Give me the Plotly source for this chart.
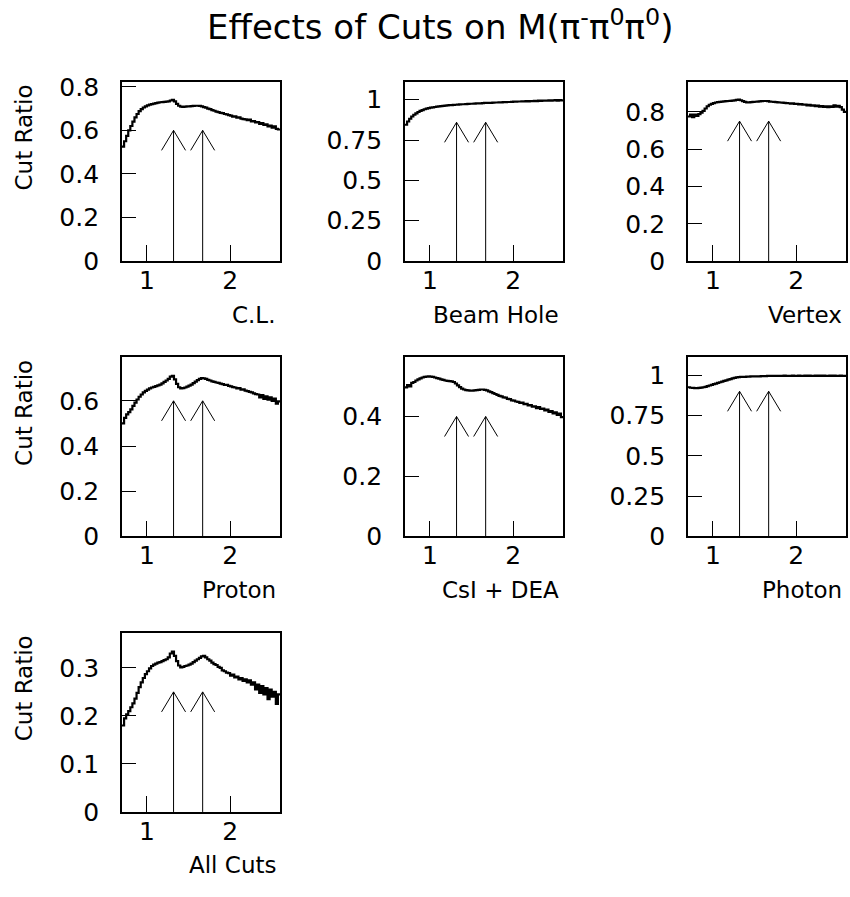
import numpy as np
import plotly.graph_objects as go

# ---------------- data ----------------
MASS_MIN, MASS_MAX = 0.7, 2.6
panel_titles = ["C.L.", "Beam Hole", "Vertex", "Proton", "CsI + DEA", "Photon", "All Cuts"]

cl = [0.525, 0.550, 0.575, 0.600, 0.620, 0.640, 0.660, 0.675, 0.688, 0.697, 0.705, 0.710,
      0.715, 0.718, 0.720, 0.723, 0.725, 0.727, 0.729, 0.730, 0.731, 0.732, 0.733, 0.737,
      0.740, 0.733, 0.722, 0.713, 0.709, 0.708, 0.709, 0.710, 0.710, 0.711, 0.712, 0.713,
      0.713, 0.712, 0.710, 0.707, 0.704, 0.700, 0.697, 0.693, 0.690, 0.686, 0.684, 0.680,
      0.679, 0.675, 0.673, 0.670, 0.668, 0.663, 0.664, 0.658, 0.660, 0.654, 0.652, 0.650,
      0.647, 0.649, 0.641, 0.643, 0.636, 0.638, 0.630, 0.633, 0.625, 0.628, 0.618, 0.622,
      0.612, 0.618, 0.607, 0.604]

beam_hole = [0.845, 0.865, 0.882, 0.896, 0.907, 0.916, 0.924, 0.931, 0.936, 0.941, 0.945, 0.948,
             0.951, 0.953, 0.955, 0.957, 0.959, 0.960, 0.962, 0.963, 0.965, 0.966, 0.967, 0.968,
             0.969, 0.970, 0.971, 0.972, 0.972, 0.973, 0.974, 0.975, 0.975, 0.976, 0.977, 0.978,
             0.978, 0.979, 0.980, 0.980, 0.981, 0.981, 0.982, 0.983, 0.983, 0.984, 0.984, 0.985,
             0.985, 0.986, 0.986, 0.987, 0.988, 0.988, 0.989, 0.989, 0.990, 0.990, 0.991, 0.990,
             0.992, 0.991, 0.993, 0.992, 0.994, 0.993, 0.994, 0.995, 0.994, 0.996, 0.995, 0.996,
             0.997, 0.995, 0.997, 0.996]

vertex = [0.775, 0.785, 0.772, 0.785, 0.778, 0.788, 0.795, 0.805, 0.818, 0.830, 0.838, 0.843,
          0.847, 0.850, 0.852, 0.853, 0.855, 0.856, 0.857, 0.858, 0.859, 0.860, 0.861, 0.864,
          0.866, 0.862, 0.857, 0.853, 0.851, 0.851, 0.852, 0.853, 0.854, 0.855, 0.856, 0.857,
          0.858, 0.858, 0.857, 0.855, 0.854, 0.853, 0.852, 0.851, 0.850, 0.849, 0.848, 0.847,
          0.846, 0.844, 0.845, 0.842, 0.843, 0.840, 0.841, 0.838, 0.839, 0.835, 0.837, 0.833,
          0.835, 0.830, 0.833, 0.828, 0.831, 0.826, 0.829, 0.825, 0.830, 0.827, 0.835, 0.828,
          0.832, 0.825, 0.812, 0.800]

proton = [0.500, 0.525, 0.540, 0.550, 0.562, 0.578, 0.592, 0.606, 0.618, 0.628, 0.637, 0.644,
          0.650, 0.655, 0.659, 0.662, 0.665, 0.668, 0.672, 0.677, 0.684, 0.690, 0.697, 0.707,
          0.710, 0.695, 0.675, 0.660, 0.655, 0.656, 0.659, 0.663, 0.667, 0.672, 0.678, 0.685,
          0.692, 0.697, 0.700, 0.699, 0.697, 0.693, 0.690, 0.686, 0.684, 0.681, 0.679, 0.676,
          0.674, 0.670, 0.671, 0.666, 0.664, 0.661, 0.659, 0.655, 0.656, 0.650, 0.651, 0.645,
          0.643, 0.640, 0.637, 0.633, 0.630, 0.628, 0.615, 0.625, 0.608, 0.620, 0.605, 0.615,
          0.600, 0.610, 0.588, 0.598]

csi_dea = [0.497, 0.505, 0.500, 0.512, 0.515, 0.520, 0.524, 0.527, 0.530, 0.532, 0.533, 0.534,
           0.533, 0.532, 0.530, 0.528, 0.526, 0.524, 0.522, 0.520, 0.519, 0.518, 0.517, 0.515,
           0.510, 0.504, 0.498, 0.493, 0.490, 0.488, 0.487, 0.486, 0.486, 0.487, 0.488, 0.489,
           0.490, 0.490, 0.489, 0.487, 0.484, 0.481, 0.478, 0.475, 0.472, 0.469, 0.467, 0.464,
           0.463, 0.459, 0.458, 0.454, 0.453, 0.450, 0.449, 0.445, 0.446, 0.441, 0.442, 0.437,
           0.438, 0.433, 0.434, 0.428, 0.431, 0.425, 0.426, 0.420, 0.423, 0.415, 0.418, 0.410,
           0.414, 0.405, 0.410, 0.398]

photon = [0.925, 0.922, 0.921, 0.920, 0.920, 0.921, 0.923, 0.925, 0.928, 0.932, 0.936, 0.940,
          0.944, 0.948, 0.952, 0.956, 0.960, 0.964, 0.968, 0.972, 0.976, 0.980, 0.983, 0.986,
          0.988, 0.989, 0.990, 0.990, 0.991, 0.991, 0.992, 0.992, 0.993, 0.993, 0.993, 0.994,
          0.994, 0.994, 0.995, 0.995, 0.995, 0.996, 0.995, 0.996, 0.996, 0.995, 0.997, 0.996,
          0.996, 0.995, 0.997, 0.996, 0.996, 0.997, 0.996, 0.995, 0.997, 0.996, 0.997, 0.996,
          0.995, 0.997, 0.996, 0.997, 0.996, 0.997, 0.995, 0.996, 0.997, 0.996, 0.997, 0.996,
          0.995, 0.997, 0.996, 0.996]

all_cuts = [0.180, 0.195, 0.203, 0.210, 0.218, 0.226, 0.236, 0.248, 0.260, 0.270, 0.279, 0.287,
            0.293, 0.299, 0.304, 0.307, 0.309, 0.311, 0.312, 0.314, 0.316, 0.318, 0.322, 0.330,
            0.334, 0.325, 0.314, 0.305, 0.301, 0.302, 0.304, 0.305, 0.307, 0.309, 0.312, 0.315,
            0.318, 0.321, 0.324, 0.325, 0.322, 0.318, 0.315, 0.311, 0.308, 0.306, 0.302, 0.300,
            0.295, 0.293, 0.290, 0.289, 0.284, 0.286, 0.280, 0.282, 0.276, 0.279, 0.273, 0.276,
            0.270, 0.274, 0.265, 0.270, 0.255, 0.265, 0.248, 0.262, 0.245, 0.258, 0.235, 0.255,
            0.240, 0.250, 0.225, 0.245]

series = [cl, beam_hole, vertex, proton, csi_dea, photon, all_cuts]

y_max = [0.822, 1.11, 0.96, 0.792, 0.597, 1.11, 0.373]
y_tickvals = [[0, 0.2, 0.4, 0.6, 0.8],
              [0, 0.25, 0.5, 0.75, 1],
              [0, 0.2, 0.4, 0.6, 0.8],
              [0, 0.2, 0.4, 0.6],
              [0, 0.2, 0.4],
              [0, 0.25, 0.5, 0.75, 1],
              [0, 0.1, 0.2, 0.3]]
y_ticktext = [["0", "0.2", "0.4", "0.6", "0.8"],
              ["0", "0.25", "0.5", "0.75", "1"],
              ["0", "0.2", "0.4", "0.6", "0.8"],
              ["0", "0.2", "0.4", "0.6"],
              ["0", "0.2", "0.4"],
              ["0", "0.25", "0.5", "0.75", "1"],
              ["0", "0.1", "0.2", "0.3"]]
x_tickvals = [1, 2]
x_ticktext = ["1", "2"]

arrow_mass = [1.32, 1.67]
arrow_tip = [0.6, 0.86, 0.75, 0.6, 0.4, 0.9, 0.25]

# ---------------- layout geometry (pixels) ----------------
W, H = 850, 897
col_left = [122, 405, 688]
col_w = 158
row_top = [75, 358, 641]
row_h = 184

FONT = "DejaVu Sans"

fig = go.Figure()
annotations = []
shapes = []

for i, vals in enumerate(series):
    r, c = divmod(i, 3)
    n = i + 1
    xa = "x" if n == 1 else f"x{n}"
    ya = "y" if n == 1 else f"y{n}"
    edges = np.linspace(MASS_MIN, MASS_MAX, len(vals) + 1)
    fig.add_trace(go.Scatter(
        x=edges, y=list(vals) + [vals[-1]], mode="lines", line_shape="hv",
        line=dict(color="black", width=2.2), xaxis=xa, yaxis=ya, showlegend=False,
        hoverinfo="skip"))

    x0 = col_left[c] / W
    x1 = (col_left[c] + col_w) / W
    y1 = 1 - row_top[r] / H
    y0 = 1 - (row_top[r] + row_h) / H

    fig.layout[f"xaxis{'' if n == 1 else n}"] = dict(
        domain=[x0, x1], range=[MASS_MIN, MASS_MAX], anchor=ya,
        showline=True, mirror=True, linecolor="black", linewidth=1.8,
        ticks="inside", ticklen=16, tickwidth=1, tickcolor="black",
        tickvals=x_tickvals, ticktext=x_ticktext, ticklabelstandoff=-4,
        tickfont=dict(family=FONT, size=25, color="black"),
        showgrid=False, zeroline=False, fixedrange=True)
    fig.layout[f"yaxis{'' if n == 1 else n}"] = dict(
        domain=[y0, y1], range=[0, y_max[i]], anchor=xa,
        showline=True, mirror=True, linecolor="black", linewidth=1.8,
        ticks="inside", ticklen=14, tickwidth=1, tickcolor="black",
        tickvals=y_tickvals[i], ticktext=y_ticktext[i], ticklabelstandoff=16,
        tickfont=dict(family=FONT, size=25, color="black"),
        showgrid=False, zeroline=False, fixedrange=True)

    # x-axis caption, right aligned under the frame
    annotations.append(dict(
        text=panel_titles[i], xref="paper", yref="paper",
        x=x1 - 2 / W, y=1 - (row_top[r] + row_h + 55) / H,
        xanchor="right", yanchor="middle", showarrow=False,
        font=dict(family=FONT, size=23, color="black")))
    # y-axis caption on first column
    if c == 0:
        annotations.append(dict(
            text="Cut Ratio", xref="paper", yref="paper",
            x=24 / W, y=1 - (row_top[r] + 57) / H, textangle=-90,
            xanchor="center", yanchor="middle", showarrow=False,
            font=dict(family=FONT, size=23, color="black")))

    # resonance arrows
    for m in arrow_mass:
        shapes.append(dict(type="line", xref=xa, yref=ya, x0=m, x1=m, y0=0,
                           y1=arrow_tip[i], line=dict(color="black", width=1)))
        shapes.append(dict(type="path", xref=xa, yref=ya,
                           xsizemode="pixel", ysizemode="pixel",
                           xanchor=m, yanchor=arrow_tip[i],
                           path="M-12,-20L0,0L12,-20",
                           line=dict(color="black", width=1)))

annotations.append(dict(
    text="Effects of Cuts on M(π<sup>-</sup>π<sup>0</sup>π<sup>0</sup>)",
    xref="paper", yref="paper", x=440 / W, y=1 - 16 / H,
    xanchor="center", yanchor="middle", showarrow=False,
    font=dict(family=FONT, size=34, color="black")))

fig.update_layout(
    width=W, height=H, margin=dict(l=0, r=0, t=0, b=0),
    paper_bgcolor="white", plot_bgcolor="white",
    annotations=annotations, shapes=shapes, showlegend=False)

fig.write_html("out.html", config={"displayModeBar": False})
